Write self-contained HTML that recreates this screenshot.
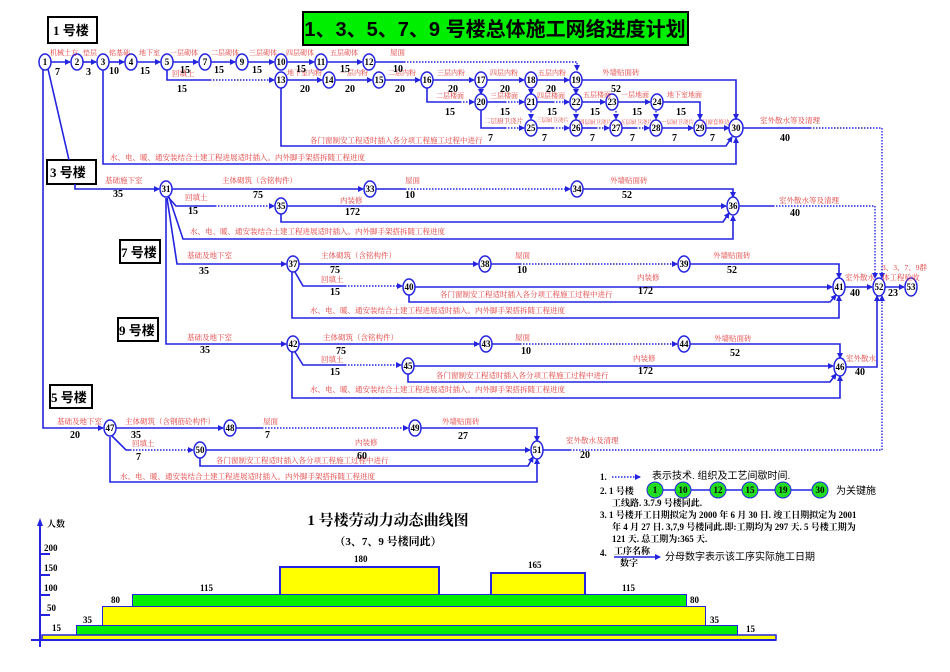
<!DOCTYPE html>
<html><head><meta charset="utf-8"><style>
html,body{margin:0;padding:0;background:#fff;}
svg{display:block;font-family:"Liberation Serif","Noto Serif CJK SC",serif;}
.l{stroke:#2424e0;stroke-width:1.6;fill:none;}
.d{stroke:#2424e0;stroke-width:1.4;fill:none;stroke-dasharray:1.5 1.5;}
.n ellipse{fill:#fff;stroke:#2424e0;stroke-width:1.5;}
.t{font-size:7.5px;fill:#e03838;}
.v{font-size:10px;font-weight:bold;fill:#000;}
.nt{font-size:9px;font-weight:bold;fill:#000;text-anchor:middle;}
.bx{fill:#fff;stroke:#000;stroke-width:2;}
.bt{font-size:13px;font-weight:bold;fill:#000;font-family:"Liberation Serif","Noto Sans CJK SC",serif;}
.lg{font-size:9px;font-weight:bold;fill:#000;}
</style></head><body>
<svg width="950" height="672" viewBox="0 0 950 672" xmlns="http://www.w3.org/2000/svg">
<defs><marker id="a" markerWidth="6" markerHeight="6" refX="5" refY="3" orient="auto" markerUnits="userSpaceOnUse"><path d="M0,0 L6,3 L0,6z" fill="#2424e0"/></marker></defs>

<rect x="303" y="12" width="385" height="33" fill="#00ee00" stroke="#000" stroke-width="2"/>
<text x="495" y="36" text-anchor="middle" style="font-size:20px;font-weight:bold;font-family:'Liberation Sans','Noto Sans CJK SC',sans-serif">1、3、5、7、9 号楼总体施工网络进度计划</text>

<rect class="bx" x="48" y="17" width="49" height="26"/><text class="bt" x="53" y="35">1 号楼</text>
<rect class="bx" x="47" y="160" width="49" height="24"/><text class="bt" x="50" y="177">3 号楼</text>
<rect class="bx" x="120" y="240" width="40" height="23"/><text class="bt" x="121" y="257">7 号楼</text>
<rect class="bx" x="118" y="318" width="40" height="23"/><text class="bt" x="119" y="335">9 号楼</text>
<rect class="bx" x="50" y="385" width="42" height="23"/><text class="bt" x="51" y="402">5 号楼</text>

<g>
<line class="l" x1="50" y1="62" x2="70" y2="62" marker-end="url(#a)"/>
<line class="l" x1="82" y1="62" x2="96" y2="62" marker-end="url(#a)"/>
<line class="l" x1="108" y1="62" x2="124" y2="62" marker-end="url(#a)"/>
<line class="l" x1="136" y1="62" x2="160" y2="62" marker-end="url(#a)"/>
<line class="l" x1="172" y1="62" x2="198" y2="62" marker-end="url(#a)"/>
<line class="l" x1="210" y1="62" x2="235" y2="62" marker-end="url(#a)"/>
<line class="l" x1="247" y1="62" x2="274" y2="62" marker-end="url(#a)"/>
<line class="l" x1="286" y1="62" x2="314" y2="62" marker-end="url(#a)"/>
<line class="l" x1="326" y1="62" x2="362" y2="62" marker-end="url(#a)"/>
<line class="l" x1="374" y1="62" x2="404" y2="62"/>
<polyline class="d" points="404,62 577,62 577,70" marker-end="url(#a)"/>
<polyline class="l" points="167,70 167,80 210,80"/>
<line class="d" x1="210" y1="80" x2="274" y2="80" marker-end="url(#a)"/>
<line class="l" x1="286" y1="80" x2="322" y2="80" marker-end="url(#a)"/>
<line class="l" x1="334" y1="80" x2="372" y2="80" marker-end="url(#a)"/>
<line class="l" x1="384" y1="80" x2="420" y2="80" marker-end="url(#a)"/>
<line class="l" x1="432" y1="80" x2="474" y2="80" marker-end="url(#a)"/>
<line class="l" x1="486" y1="80" x2="524" y2="80" marker-end="url(#a)"/>
<line class="l" x1="536" y1="80" x2="569" y2="80" marker-end="url(#a)"/>
<polyline class="l" points="581,80 736,80 736,119" marker-end="url(#a)"/>
<polyline class="l" points="427,88 427,102 460,102"/>
<line class="d" x1="460" y1="102" x2="474" y2="102" marker-end="url(#a)"/>
<line class="d" x1="481" y1="89" x2="481" y2="94" marker-end="url(#a)"/>
<line class="d" x1="531" y1="89" x2="531" y2="94" marker-end="url(#a)"/>
<line class="d" x1="576" y1="89" x2="576" y2="94" marker-end="url(#a)"/>
<line class="l" x1="486" y1="102" x2="505" y2="102"/><line class="d" x1="505" y1="102" x2="524" y2="102" marker-end="url(#a)"/>
<line class="l" x1="536" y1="102" x2="553" y2="102"/><line class="d" x1="553" y1="102" x2="569" y2="102" marker-end="url(#a)"/>
<line class="l" x1="581" y1="102" x2="605" y2="102" marker-end="url(#a)"/>
<line class="l" x1="617" y1="102" x2="650" y2="102" marker-end="url(#a)"/>
<polyline class="l" points="662,102 700,102 700,119" marker-end="url(#a)"/>
<polyline class="l" points="481,110 481,128 505,128"/><line class="d" x1="505" y1="128" x2="524" y2="128" marker-end="url(#a)"/>
<line class="d" x1="531" y1="111" x2="531" y2="119" marker-end="url(#a)"/>
<line class="d" x1="576" y1="111" x2="576" y2="119" marker-end="url(#a)"/>
<line class="d" x1="616" y1="111" x2="616" y2="119" marker-end="url(#a)"/>
<line class="d" x1="656" y1="111" x2="656" y2="119" marker-end="url(#a)"/>
<line class="l" x1="536" y1="128" x2="553" y2="128"/><line class="d" x1="553" y1="128" x2="569" y2="128" marker-end="url(#a)"/>
<line class="l" x1="581" y1="128" x2="596" y2="128"/><line class="d" x1="596" y1="128" x2="609" y2="128" marker-end="url(#a)"/>
<line class="l" x1="621" y1="128" x2="636" y2="128"/><line class="d" x1="636" y1="128" x2="649" y2="128" marker-end="url(#a)"/>
<line class="l" x1="661" y1="128" x2="693" y2="128" marker-end="url(#a)"/>
<line class="l" x1="705" y1="128" x2="729" y2="128" marker-end="url(#a)"/>
<polyline class="l" points="281,88 281,146 726,146 732,137" marker-end="url(#a)"/>
<polyline class="l" points="103,70 103,164 736,164 736,138" marker-end="url(#a)"/>
<line class="l" x1="742" y1="128" x2="810" y2="128"/>
<polyline class="d" points="810,128 882,128 882,278" marker-end="url(#a)"/>
<line class="l" x1="48" y1="69" x2="69" y2="160"/>
<polyline class="l" points="43,70 43,428 103,428" marker-end="url(#a)"/>
</g>
<g class="n">
<ellipse cx="45" cy="62" rx="6" ry="8"/><ellipse cx="77" cy="62" rx="6" ry="8"/><ellipse cx="103" cy="62" rx="6" ry="8"/><ellipse cx="131" cy="62" rx="6" ry="8"/><ellipse cx="167" cy="62" rx="6" ry="8"/><ellipse cx="205" cy="62" rx="6" ry="8"/><ellipse cx="242" cy="62" rx="6" ry="8"/><ellipse cx="281" cy="62" rx="6" ry="8"/><ellipse cx="321" cy="62" rx="6" ry="8"/><ellipse cx="369" cy="62" rx="6" ry="8"/>
<ellipse cx="281" cy="80" rx="6" ry="8"/><ellipse cx="329" cy="80" rx="6" ry="8"/><ellipse cx="379" cy="80" rx="6" ry="8"/><ellipse cx="427" cy="80" rx="6" ry="8"/><ellipse cx="481" cy="80" rx="6" ry="8"/><ellipse cx="531" cy="80" rx="6" ry="8"/><ellipse cx="576" cy="80" rx="6" ry="8"/>
<ellipse cx="481" cy="102" rx="6" ry="8"/><ellipse cx="531" cy="102" rx="6" ry="8"/><ellipse cx="576" cy="102" rx="6" ry="8"/><ellipse cx="612" cy="102" rx="6" ry="8"/><ellipse cx="657" cy="102" rx="6" ry="8"/>
<ellipse cx="531" cy="128" rx="6" ry="8"/><ellipse cx="576" cy="128" rx="6" ry="8"/><ellipse cx="616" cy="128" rx="6" ry="8"/><ellipse cx="656" cy="128" rx="6" ry="8"/><ellipse cx="700" cy="128" rx="6" ry="8"/><ellipse cx="736" cy="128" rx="7" ry="9"/>
</g>
<g class="nt">
<text x="45" y="65">1</text><text x="77" y="65">2</text><text x="103" y="65">3</text><text x="131" y="65">4</text><text x="167" y="65">5</text><text x="205" y="65">7</text><text x="242" y="65">9</text><text x="281" y="65">10</text><text x="321" y="65">11</text><text x="369" y="65">12</text>
<text x="281" y="83">13</text><text x="329" y="83">14</text><text x="379" y="83">15</text><text x="427" y="83">16</text><text x="481" y="83">17</text><text x="531" y="83">18</text><text x="576" y="83">19</text>
<text x="481" y="105">20</text><text x="531" y="105">21</text><text x="576" y="105">22</text><text x="612" y="105">23</text><text x="657" y="105">24</text>
<text x="531" y="131">25</text><text x="576" y="131">26</text><text x="616" y="131">27</text><text x="656" y="131">28</text><text x="700" y="131">29</text><text x="736" y="131">30</text>
</g>
<g class="t">
<text x="50" y="55" style="font-size:7px">机械土方</text><text x="83" y="55" style="font-size:7px">垫层</text><text x="109" y="55" style="font-size:7px">铭基础</text><text x="139" y="55" style="font-size:7px">地下室</text><text x="170" y="55" style="font-size:7px">一层砌体</text><text x="211" y="55" style="font-size:7px">二层砌体</text><text x="249" y="55" style="font-size:7px">三层砌体</text><text x="286" y="55" style="font-size:7px">四层砌体</text><text x="330" y="55" style="font-size:7px">五层砌体</text><text x="390" y="55">屋面</text>
<text x="172" y="76">回填土</text><text x="287" y="75" style="font-size:7px">地下室内粉</text><text x="340" y="75" style="font-size:7px">一层内粉</text><text x="388" y="75" style="font-size:7px">二层内粉</text><text x="437" y="75" style="font-size:7px">三层内粉</text><text x="490" y="75" style="font-size:7px">四层内粉</text><text x="538" y="75" style="font-size:7px">五层内粉</text><text x="602" y="75">外墙贴面砖</text>
<text x="436" y="98" style="font-size:7px">二层楼面</text><text x="490" y="98" style="font-size:7px">三层楼面</text><text x="537" y="98" style="font-size:7px">四层楼面</text><text x="583" y="97" style="font-size:7px">五层楼面</text><text x="621" y="97" style="font-size:7px">一层地面</text><text x="667" y="97" style="font-size:7px">地下室地面</text>
<text x="484" y="123" style="font-size:6.5px">二层厨卫浇片</text><text x="536" y="122" style="font-size:5.5px">三层厨卫浇片</text><text x="579" y="124" style="font-size:5.5px">四层厨卫浇片</text><text x="620" y="124" style="font-size:5.5px">五层厨卫浇片</text><text x="661" y="124" style="font-size:5.5px">一层厨卫浇片</text><text x="702" y="124" style="font-size:5.5px">门窗套修边</text>
<text x="310" y="143">各门窗制安工程适时插入各分项工程施工过程中进行</text>
<text x="110" y="160">水、电、暖、通安装结合土建工程进展适时插入。内外脚手架搭拆随工程进度</text>
<text x="760" y="123">室外散水等及清理</text>
</g>
<g class="v">
<text x="55" y="75">7</text><text x="86" y="75">3</text><text x="109" y="74">10</text><text x="140" y="74">15</text><text x="180" y="73">15</text><text x="214" y="73">15</text><text x="252" y="73">15</text><text x="296" y="72">15</text><text x="340" y="72">15</text><text x="393" y="72">10</text>
<text x="177" y="92">15</text><text x="300" y="92">20</text><text x="345" y="92">20</text><text x="395" y="92">20</text><text x="448" y="92">20</text><text x="500" y="92">20</text><text x="546" y="92">20</text><text x="611" y="92">52</text>
<text x="445" y="115">15</text><text x="500" y="115">15</text><text x="547" y="115">15</text><text x="590" y="115">15</text><text x="632" y="115">15</text><text x="676" y="115">15</text>
<text x="488" y="141">7</text><text x="542" y="141">7</text><text x="590" y="141">7</text><text x="630" y="141">7</text><text x="672" y="141">7</text><text x="710" y="141">7</text>
<text x="780" y="141">40</text>
</g>

<polyline class="l" points="75,184 75,189 159,189" marker-end="url(#a)"/>
<line class="l" x1="172" y1="189" x2="363" y2="189" marker-end="url(#a)"/>
<line class="l" x1="376" y1="189" x2="405" y2="189"/>
<line class="d" x1="405" y1="189" x2="570" y2="189" marker-end="url(#a)"/>
<polyline class="l" points="583,189 733,189 733,197" marker-end="url(#a)"/>
<polyline class="l" points="168,197 176,206 215,206"/>
<line class="d" x1="215" y1="206" x2="274" y2="206" marker-end="url(#a)"/>
<line class="l" x1="287" y1="206" x2="726" y2="206" marker-end="url(#a)"/>
<polyline class="l" points="281,214 281,222 723,222 729,213" marker-end="url(#a)"/>
<polyline class="l" points="169,197 183,239 733,239 733,216" marker-end="url(#a)"/>
<line class="l" x1="739" y1="206" x2="773" y2="206"/>
<polyline class="d" points="773,206 875,206 875,278" marker-end="url(#a)"/>
<polyline class="l" points="167,198 177,264 286,264" marker-end="url(#a)"/>
<polyline class="l" points="166,198 166,344 286,344" marker-end="url(#a)"/>
<g class="n"><ellipse cx="166" cy="189" rx="6" ry="8"/><ellipse cx="370" cy="189" rx="6" ry="8"/><ellipse cx="577" cy="189" rx="6" ry="8"/><ellipse cx="281" cy="206" rx="6" ry="8"/><ellipse cx="733" cy="206" rx="6" ry="9"/></g>
<g class="nt"><text x="166" y="192">31</text><text x="370" y="192">33</text><text x="577" y="192">34</text><text x="281" y="209">35</text><text x="733" y="209">36</text></g>
<g class="t"><text x="105" y="183">基础施下室</text><text x="222" y="183">主体砌筑（含铭构件）</text><text x="405" y="183">屋面</text><text x="610" y="183">外墙贴面砖</text>
<text x="185" y="200">回填土</text><text x="340" y="203">内装修</text><text x="190" y="234">水、电、暖、通安装结合土建工程进展适时插入。内外脚手架搭拆随工程进度</text><text x="779" y="203">室外散水等及清理</text></g>
<g class="v"><text x="113" y="197">35</text><text x="253" y="198">75</text><text x="405" y="198">10</text><text x="622" y="198">52</text><text x="188" y="214">15</text><text x="345" y="215">172</text><text x="790" y="216">40</text></g>

<line class="l" x1="299" y1="264" x2="478" y2="264" marker-end="url(#a)"/>
<line class="l" x1="491" y1="264" x2="520" y2="264"/><line class="d" x1="520" y1="264" x2="677" y2="264" marker-end="url(#a)"/>
<polyline class="l" points="690,264 839,264 839,278" marker-end="url(#a)"/>
<polyline class="l" points="295,272 303,286 345,286"/><line class="d" x1="345" y1="286" x2="402" y2="286" marker-end="url(#a)"/>
<line class="l" x1="415" y1="287" x2="832" y2="287" marker-end="url(#a)"/>
<polyline class="l" points="409,295 409,302 830,302 836,295" marker-end="url(#a)"/>
<polyline class="l" points="292,272 292,318 839,318 839,296" marker-end="url(#a)"/>
<line class="l" x1="845" y1="287" x2="872" y2="287" marker-end="url(#a)"/>
<line class="l" x1="885" y1="287" x2="904" y2="287" marker-end="url(#a)"/>
<g class="n"><ellipse cx="293" cy="264" rx="6" ry="8"/><ellipse cx="485" cy="264" rx="6" ry="8"/><ellipse cx="684" cy="264" rx="6" ry="8"/><ellipse cx="409" cy="287" rx="6" ry="8"/><ellipse cx="839" cy="287" rx="6" ry="9"/><ellipse cx="879" cy="287" rx="6" ry="9"/><ellipse cx="911" cy="287" rx="6" ry="9"/></g>
<g class="nt"><text x="293" y="267">37</text><text x="485" y="267">38</text><text x="684" y="267">39</text><text x="409" y="290">40</text><text x="839" y="290">41</text><text x="879" y="290">52</text><text x="911" y="290">53</text></g>
<g class="t"><text x="187" y="258">基础及地下室</text><text x="321" y="258">主体砌筑（含铭构件）</text><text x="515" y="258">屋面</text><text x="713" y="258">外墙贴面砖</text>
<text x="321" y="282">回填土</text><text x="637" y="280">内装修</text><text x="440" y="297">各门窗制安工程适时插入各分项工程施工过程中进行</text><text x="310" y="313">水、电、暖、通安装结合土建工程进展适时插入。内外脚手架搭拆随工程进度</text>
<text x="845" y="280">室外散水</text><text x="882" y="270">3、3、7、9群</text><text x="882" y="280">体工程验收</text></g>
<g class="v"><text x="199" y="274">35</text><text x="330" y="273">75</text><text x="517" y="273">10</text><text x="727" y="273">52</text><text x="330" y="295">15</text><text x="638" y="294">172</text><text x="850" y="296">40</text><text x="888" y="296">23</text></g>

<line class="l" x1="299" y1="344" x2="479" y2="344" marker-end="url(#a)"/>
<line class="l" x1="492" y1="344" x2="520" y2="344"/><line class="d" x1="520" y1="344" x2="677" y2="344" marker-end="url(#a)"/>
<polyline class="l" points="690,344 840,344 840,358" marker-end="url(#a)"/>
<polyline class="l" points="295,352 303,365 345,365"/><line class="d" x1="345" y1="365" x2="401" y2="365" marker-end="url(#a)"/>
<line class="l" x1="414" y1="366" x2="833" y2="366" marker-end="url(#a)"/>
<polyline class="l" points="408,374 408,382 830,382 836,374" marker-end="url(#a)"/>
<polyline class="l" points="292,352 292,398 840,398 840,376" marker-end="url(#a)"/>
<polyline class="l" points="846,367 877,367 877,296" marker-end="url(#a)"/>
<g class="n"><ellipse cx="293" cy="344" rx="6" ry="8"/><ellipse cx="486" cy="344" rx="6" ry="8"/><ellipse cx="684" cy="344" rx="6" ry="8"/><ellipse cx="408" cy="366" rx="6" ry="8"/><ellipse cx="840" cy="367" rx="6" ry="9"/></g>
<g class="nt"><text x="293" y="347">42</text><text x="486" y="347">43</text><text x="684" y="347">44</text><text x="408" y="369">45</text><text x="840" y="370">46</text></g>
<g class="t"><text x="187" y="340">基础及地下室</text><text x="323" y="340">主体砌筑（含铭构件）</text><text x="515" y="340">屋面</text><text x="714" y="341">外墙贴面砖</text>
<text x="321" y="362">回填土</text><text x="633" y="361">内装修</text><text x="436" y="378">各门窗制安工程适时插入各分项工程施工过程中进行</text><text x="310" y="392">水、电、暖、通安装结合土建工程进展适时插入。内外脚手架搭拆随工程进度</text><text x="846" y="361">室外散水</text></g>
<g class="v"><text x="200" y="353">35</text><text x="336" y="354">75</text><text x="521" y="354">10</text><text x="730" y="356">52</text><text x="330" y="375">15</text><text x="638" y="374">172</text><text x="855" y="375">40</text></g>

<line class="l" x1="116" y1="428" x2="223" y2="428" marker-end="url(#a)"/>
<line class="l" x1="236" y1="428" x2="262" y2="428"/><line class="d" x1="262" y1="428" x2="408" y2="428" marker-end="url(#a)"/>
<polyline class="l" points="421,428 537,428 537,441" marker-end="url(#a)"/>
<polyline class="l" points="112,436 126,450 130,450"/><line class="d" x1="130" y1="450" x2="193" y2="450" marker-end="url(#a)"/>
<line class="l" x1="206" y1="450" x2="530" y2="450" marker-end="url(#a)"/>
<polyline class="l" points="200,458 200,466 528,466 533,457" marker-end="url(#a)"/>
<polyline class="l" points="110,437 110,482 537,482 537,459" marker-end="url(#a)"/>
<line class="l" x1="543" y1="450" x2="570" y2="450"/>
<polyline class="d" points="570,450 882,450 882,296" marker-end="url(#a)"/>
<g class="n"><ellipse cx="110" cy="428" rx="6" ry="8"/><ellipse cx="230" cy="428" rx="6" ry="8"/><ellipse cx="415" cy="428" rx="6" ry="8"/><ellipse cx="200" cy="450" rx="6" ry="8"/><ellipse cx="537" cy="450" rx="6" ry="9"/></g>
<g class="nt"><text x="110" y="431">47</text><text x="230" y="431">48</text><text x="415" y="431">49</text><text x="200" y="453">50</text><text x="537" y="453">51</text></g>
<g class="t"><text x="57" y="424">基础及地下室</text><text x="125" y="424">主体砌筑（含钢筋砼构件）</text><text x="263" y="424">屋面</text><text x="442" y="424">外墙贴面砖</text>
<text x="132" y="446">回填土</text><text x="355" y="445">内装修</text><text x="216" y="463">各门窗制安工程适时插入各分项工程施工过程中进行</text><text x="120" y="479">水、电、暖、通安装结合土建工程进展适时插入。内外脚手架搭拆随工程进度</text><text x="566" y="443">室外散水及清理</text></g>
<g class="v"><text x="70" y="438">20</text><text x="131" y="438">35</text><text x="265" y="438">7</text><text x="458" y="439">27</text><text x="136" y="460">7</text><text x="357" y="459">60</text><text x="580" y="458">20</text></g>

<g class="lg">
<text x="600" y="480">1.</text><line class="d" x1="612" y1="477" x2="640" y2="477" marker-end="url(#a)"/><text x="652" y="479" style="font-weight:normal;font-size:10px;font-family:'Liberation Sans','Noto Sans CJK SC',sans-serif">表示技术. 组织及工艺间歇时间.</text>
<text x="600" y="494">2. 1 号楼</text>
<text x="612" y="506">工线路. 3.7.9 号楼同此.</text>
<text x="600" y="518">3. 1 号楼开工日期拟定为 2000 年 6 月 30 日. 竣工日期拟定为 2001</text>
<text x="612" y="530">年 4 月 27 日. 3,7,9 号楼同此.即:工期均为 297 天. 5 号楼工期为</text>
<text x="612" y="542">121 天. 总工期为:365 天.</text>
<text x="600" y="556">4.</text><text x="614" y="554">工序名称</text><text x="620" y="566">数字</text>
<text x="665" y="560" style="font-weight:normal;font-size:10px;font-family:'Liberation Sans','Noto Sans CJK SC',sans-serif">分母数字表示该工序实际施工日期</text>
<text x="836" y="494" style="font-weight:normal;font-size:10px;font-family:'Liberation Sans','Noto Sans CJK SC',sans-serif">为关键施</text>
</g>
<line class="l" x1="614" y1="557" x2="660" y2="557" marker-end="url(#a)"/>
<g>
<line class="l" x1="660" y1="490" x2="820" y2="490"/>
<g fill="#22dd22" stroke="#2424e0" stroke-width="1"><ellipse cx="655" cy="490" rx="8" ry="8"/><ellipse cx="683" cy="490" rx="8" ry="8"/><ellipse cx="718" cy="490" rx="8" ry="8"/><ellipse cx="750" cy="490" rx="8" ry="8"/><ellipse cx="783" cy="490" rx="8" ry="8"/><ellipse cx="820" cy="490" rx="8" ry="8"/></g>
<g class="nt"><text x="655" y="493">1</text><text x="683" y="493">10</text><text x="718" y="493">12</text><text x="750" y="493">15</text><text x="783" y="493">19</text><text x="820" y="493">30</text></g>
</g>

<text x="388" y="525" text-anchor="middle" style="font-size:15px;font-weight:bold;font-family:'Liberation Serif','Noto Serif CJK SC',serif">1 号楼劳动力动态曲线图</text>
<text x="388" y="545" text-anchor="middle" style="font-size:11px;font-weight:bold">（3、7、9 号楼同此）</text>
<rect x="280" y="567" width="159" height="28" fill="#ffff00" stroke="#2424e0" stroke-width="2"/>
<rect x="491" y="573" width="94" height="22" fill="#ffff00" stroke="#2424e0" stroke-width="2"/>
<polyline points="133,607 133,595 686,595 686,607" fill="none" stroke="#2424e0" stroke-width="2"/>
<rect x="133" y="595" width="553" height="12" fill="#00ee00"/>
<polyline points="103,626 103,607 705,607 705,626" fill="none" stroke="#2424e0" stroke-width="2"/>
<rect x="103" y="607" width="602" height="19" fill="#ffff00"/>
<polyline points="77,635 77,626 737,626 737,635" fill="none" stroke="#2424e0" stroke-width="2"/>
<rect x="77" y="626" width="660" height="9" fill="#00ee00"/>
<rect x="42" y="635" width="734" height="5" fill="#ffff00" stroke="#2424e0" stroke-width="1.5"/>
<line x1="40" y1="522" x2="40" y2="647" stroke="#2424e0" stroke-width="2"/>
<path d="M40,518 l-3,8 h6z" fill="#2424e0"/>
<line x1="31" y1="640" x2="776" y2="640" stroke="#2424e0" stroke-width="2"/>
<g stroke="#2424e0" stroke-width="2"><line x1="40" y1="554" x2="50" y2="554"/><line x1="40" y1="575" x2="50" y2="575"/><line x1="40" y1="595" x2="50" y2="595"/><line x1="40" y1="615" x2="50" y2="615"/></g>
<g style="font-size:9px;font-weight:bold">
<text x="47" y="527">人数</text><text x="44" y="551">200</text><text x="44" y="571">150</text><text x="44" y="591">100</text><text x="47" y="611">50</text><text x="52" y="631">15</text>
<text x="83" y="623">35</text><text x="111" y="603">80</text><text x="200" y="591">115</text><text x="354" y="562">180</text><text x="528" y="568">165</text><text x="622" y="591">115</text><text x="690" y="603">80</text><text x="710" y="623">35</text><text x="746" y="632">15</text>
</g>
</svg>
</body></html>
